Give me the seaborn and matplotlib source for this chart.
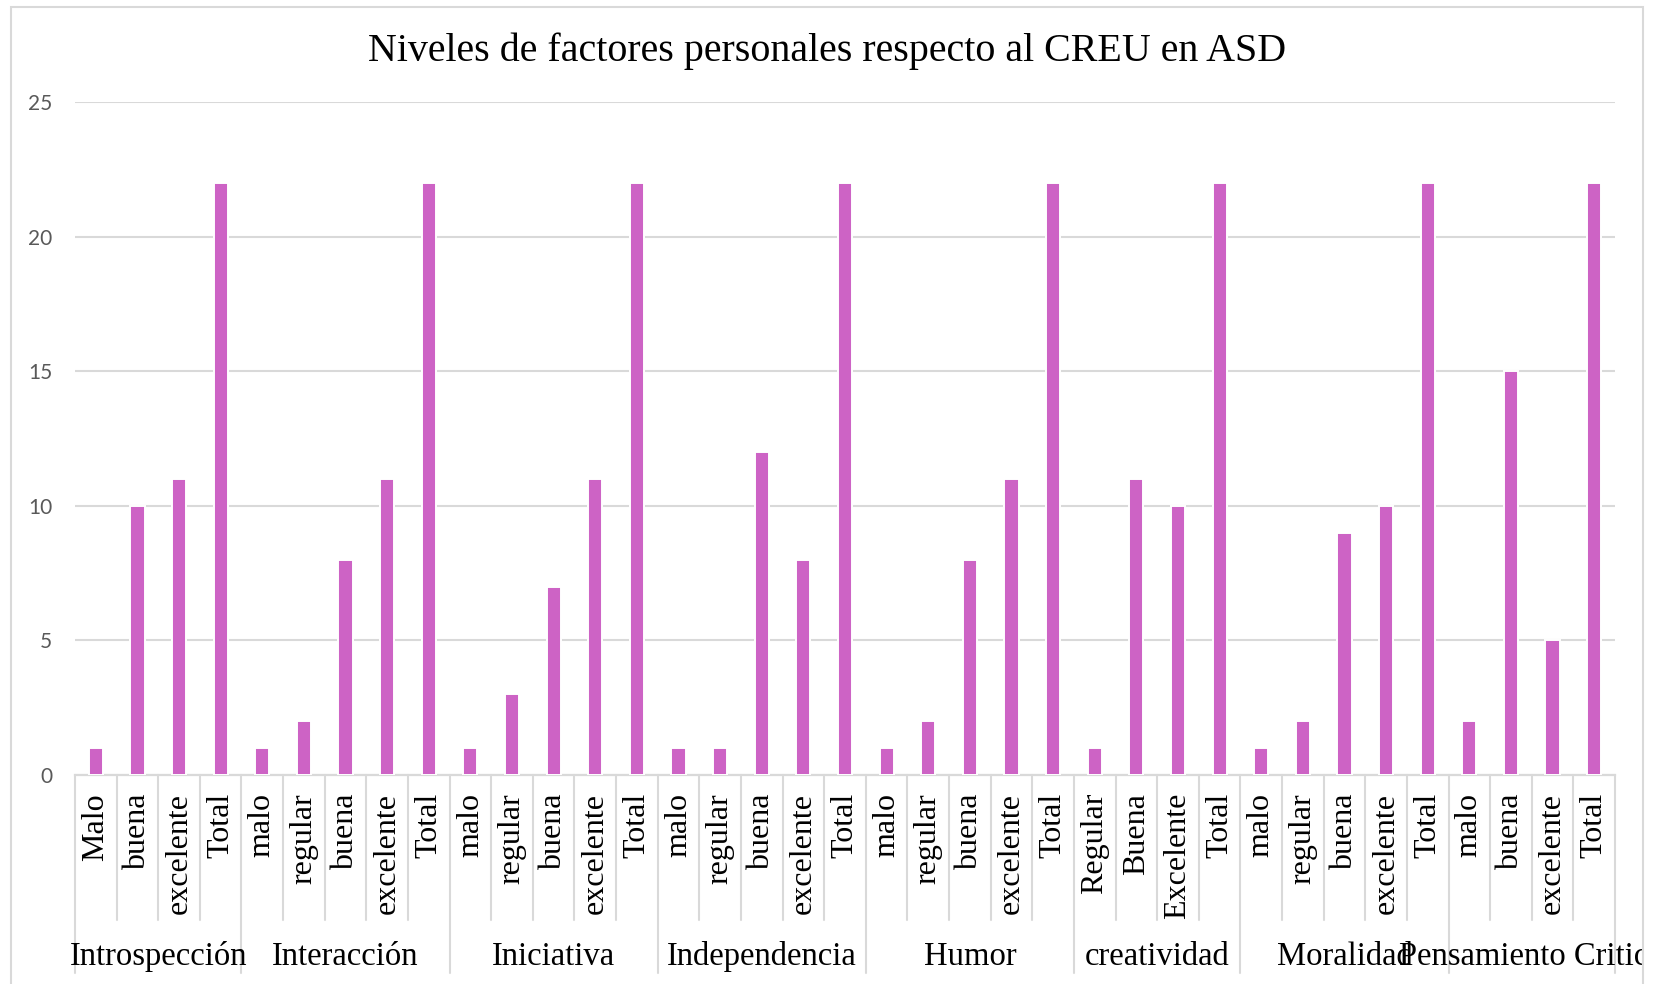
import matplotlib
matplotlib.use("Agg")
import matplotlib.pyplot as plt
import matplotlib.transforms as mtransforms
from matplotlib.patches import Rectangle
import seaborn as sns
import pandas as pd

# --- data ---------------------------------------------------------------
factores = ["Introspección", "Interacción", "Iniciativa", "Independencia",
            "Humor", "creatividad", "Moralidad", "Pensamiento Critico"]

niveles = [
    ["Malo", "buena", "excelente", "Total"],
    ["malo", "regular", "buena", "excelente", "Total"],
    ["malo", "regular", "buena", "excelente", "Total"],
    ["malo", "regular", "buena", "excelente", "Total"],
    ["malo", "regular", "buena", "excelente", "Total"],
    ["Regular", "Buena", "Excelente", "Total"],
    ["malo", "regular", "buena", "excelente", "Total"],
    ["malo", "buena", "excelente", "Total"],
]

valores = [
    [1, 10, 11, 22],
    [1, 2, 8, 11, 22],
    [1, 3, 7, 11, 22],
    [1, 1, 12, 8, 22],
    [1, 2, 8, 11, 22],
    [1, 11, 10, 22],
    [1, 2, 9, 10, 22],
    [2, 15, 5, 22],
]

titulo = "Niveles de factores personales respecto al CREU en ASD"
y_ticks = [0, 5, 10, 15, 20, 25]

# --- style ---------------------------------------------------------------
BAR = "#CD63C5"
GRID = "#D9D9D9"
TICK_TXT = "#595959"
SERIF = ["Liberation Serif", "DejaVu Serif"]
SANS = ["Lato", "DejaVu Sans"]

sns.set_theme(style="white")
plt.rcParams["font.family"] = SERIF

# long-format table, one row per bar
filas = []
for f, nv, vals in zip(factores, niveles, valores):
    for n, v in zip(nv, vals):
        filas.append({"factor": f, "nivel": n, "clave": f"{f}|{n}", "valor": v})
df = pd.DataFrame(filas)
orden = list(df["clave"])

W, H = 1654, 984
fig = plt.figure(figsize=(W / 100, H / 100), dpi=100)
fig.patch.set_facecolor("white")

# plot area in pixel coordinates
x0, x1, ytop, ybot = 75, 1615, 102, 775
ax = fig.add_axes([x0 / W, 1 - ybot / H, (x1 - x0) / W, (ybot - ytop) / H])

sns.barplot(data=df, x="clave", y="valor", order=orden, color=BAR,
            saturation=1, width=0.34, edgecolor="white", linewidth=1.4,
            errorbar=None, ax=ax, zorder=3)

ax.set_xlim(-0.5, len(orden) - 0.5)
ax.set_ylim(0, 25)
ax.set_yticks(y_ticks)
ax.set_yticklabels([str(t) for t in y_ticks], family=SANS, fontsize=15,
                   color=TICK_TXT)
ax.tick_params(axis="y", length=0, pad=16.5)
ax.set_xticks([])
ax.set_xlabel("")
ax.set_ylabel("")
ax.yaxis.grid(True, color=GRID, linewidth=1.5, zorder=0)
ax.set_axisbelow(True)
for lado in ["left", "right", "top"]:
    ax.spines[lado].set_visible(False)
ax.spines["bottom"].set_color(GRID)
ax.spines["bottom"].set_linewidth(1.6)

# helper: pixel row -> axes fraction
def fy(ypix):
    return (ybot - ypix) / (ybot - ytop)

trans = mtransforms.blended_transform_factory(ax.transData, ax.transAxes)

# category labels and separators
pos = 0
for f, nv in zip(factores, niveles):
    inicio = pos
    for k, n in enumerate(nv):
        ax.text(pos, fy(793), n, transform=trans, rotation=90,
                ha="center", va="top", fontsize=23, color="black",
                family=SERIF, clip_on=False)
        if k > 0:
            ax.plot([pos - 0.5, pos - 0.5], [0, fy(920)], transform=trans,
                    color=GRID, linewidth=1.5, clip_on=False)
        pos += 1
    ax.plot([inicio - 0.5, inicio - 0.5], [0, fy(973)], transform=trans,
            color=GRID, linewidth=1.5, clip_on=False)
    centro = (inicio + pos - 1) / 2
    t = ax.text(centro, fy(965), f, transform=trans, ha="center",
                va="baseline", fontsize=23.5, color="black", family=SERIF)
    t.set_clip_on(True)
    caja = mtransforms.TransformedBbox(
        mtransforms.Bbox([[0, 0], [1643 / W, 1]]), fig.transFigure)
    t.set_clip_box(caja)
ax.plot([pos - 0.5, pos - 0.5], [0, fy(973)], transform=trans,
        color=GRID, linewidth=1.5, clip_on=False)

# title
fig.text(0.5, 1 - 61 / H, titulo, ha="center", va="baseline",
         fontsize=28.8, color="black", family=SERIF)

# chart-area border
fig.add_artist(Rectangle((11 / W, -0.05), (1643 - 11) / W, (H - 7) / H + 0.05,
                         transform=fig.transFigure, fill=False,
                         edgecolor=GRID, linewidth=1.5))

fig.savefig("out.png", dpi=100, facecolor="white")
